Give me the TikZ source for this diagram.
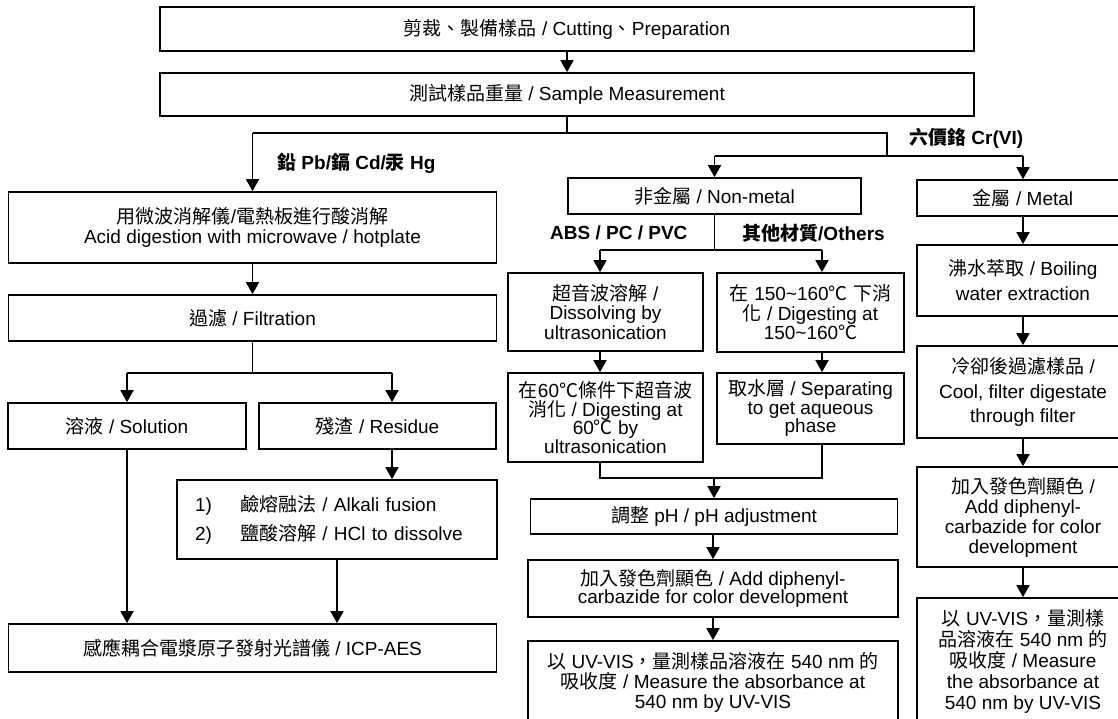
\documentclass[tikz,border=0pt]{standalone}
\usepackage{fontspec}
\setmainfont{Liberation Sans}
\newfontfamily\cjk{Noto Sans CJK TC}
\usetikzlibrary{arrows.meta}
\newcommand{\zh}[1]{{\cjk #1}}
\newcommand{\fs}[1]{\fontsize{19}{#1}\selectfont\lineskiplimit=-30pt\lineskip=0pt}
\begin{document}
\begin{tikzpicture}[x=1pt,y=-1pt,
  box/.style={draw, line width=1.7pt, inner sep=0pt, align=center, font=\fs{19.5}},
  lbl/.style={inner sep=0pt, anchor=west, font=\fs{19.5}\bfseries},
  ln/.style={line width=1.7pt},
  arr/.style={line width=1.7pt, -{Triangle[length=12pt,width=13pt]}}]
\useasboundingbox (0,0) rectangle (1118,718);
\clip (0,0) rectangle (1118,718);
\fill[white] (0,0) rectangle (1118,718);

% top
\node[box, minimum width=814pt, minimum height=44pt] (cut) at (567,29) {\zh{剪裁、製備樣品} / Cutting\zh{、}Preparation};
\node[box, minimum width=814pt, minimum height=43pt] (meas) at (567,94.5) {\zh{測試樣品重量} / Sample Measurement};

% left column
\node[box, minimum width=488pt, minimum height=71pt, font=\fs{20.5}] (acid) at (252.5,227.5) {\zh{用微波消解儀}/\zh{電熱板進行酸消解}\\Acid digestion with microwave / hotplate};
\node[box, minimum width=488pt, minimum height=46pt] (filt) at (252.5,318) {\zh{過濾} / Filtration};
\node[box, minimum width=238pt, minimum height=46pt] (sol) at (127,426) {\zh{溶液} / Solution};
\node[box, minimum width=237pt, minimum height=46pt] (res) at (377.5,426) {\zh{殘渣} / Residue};
\node[box, align=left, text width=284pt, inner xsep=18pt, minimum height=79pt, font=\fs{29}] (alk) at (337,519.5) {\makebox[45pt][l]{1)}\zh{鹼熔融法} / Alkali fusion\\\makebox[45pt][l]{2)}\zh{鹽酸溶解} / HCl to dissolve};
\node[box, minimum width=488pt, minimum height=48pt] (icp) at (252.5,648) {\zh{感應耦合電漿原子發射光譜儀} / ICP-AES};

% middle column
\node[box, minimum width=293pt, minimum height=36pt] (nonm) at (714.5,196) {\zh{非金屬} / Non-metal};
\node[box, minimum width=195pt, minimum height=78pt] (dis) at (605.5,312) {\zh{超音波溶解} /\\Dissolving by\\ultrasonication};
\node[box, minimum width=187pt, minimum height=79pt] (dig) at (810.5,312.5) {\zh{在} 150\textasciitilde160\zh{℃} \zh{下消}\\\zh{化} / Digesting at\\150\textasciitilde160\zh{℃}};
\node[box, minimum width=195pt, minimum height=89pt, font=\fs{18.5}] (us) at (605.5,417.5) {\zh{在}60\zh{℃條件下超音波}\\\zh{消化} / Digesting at\\60\zh{℃} by\\ultrasonication};
\node[box, minimum width=187pt, minimum height=71pt, font=\fs{18.5}] (aq) at (810.5,408.5) {\zh{取水層} / Separating\\to get aqueous\\phase};
\node[box, minimum width=367pt, minimum height=35pt] (ph) at (714,516.5) {\zh{調整} pH / pH adjustment};
\node[box, minimum width=370pt, minimum height=57pt, font=\fs{18}] (add) at (713,588.5) {\zh{加入發色劑顯色} / Add diphenyl-\\carbazide for color development};
\node[box, minimum width=370pt, minimum height=82pt, font=\fs{20}] (uv) at (713,682) {\zh{以} UV-VIS\zh{，量測樣品溶液在} 540 nm \zh{的}\\\zh{吸收度} / Measure the absorbance at\\540 nm by UV-VIS};

% right column
\node[box, minimum width=212pt, minimum height=36pt] (metal) at (1023,198) {\zh{金屬} / Metal};
\node[box, minimum width=212pt, minimum height=71pt, font=\fs{25}] (boil) at (1023,280.5) {\zh{沸水萃取} / Boiling\\water extraction};
\node[box, minimum width=212pt, minimum height=92pt, font=\fs{24.5}] (cool) at (1023,392) {\zh{冷卻後過濾樣品} /\\Cool, filter digestate\\through filter};
\node[box, minimum width=212pt, minimum height=100pt, font=\fs{20}] (addm) at (1023,517) {\zh{加入發色劑顯色} /\\Add diphenyl-\\carbazide for color\\development};
\node[box, minimum width=212pt, minimum height=126pt, font=\fs{21}] (uvm) at (1023,661) {\zh{以} UV-VIS\zh{，量測樣}\\\zh{品溶液在} 540 nm \zh{的}\\\zh{吸收度} / Measure\\the absorbance at\\540 nm by UV-VIS};

% labels
\node[lbl] (lpb) at (277,163) {\zh{鉛} Pb/\zh{鎘} Cd/\zh{汞} Hg};
\node[lbl] (lcr) at (909,138) {\zh{六價鉻} Cr(VI)};
\node[lbl] (labs) at (550,233) {ABS / PC / PVC};
\node[lbl] (loth) at (742,233) {\zh{其他材質}/Others};

% junction coordinates
\coordinate (j1) at (567,133);
\coordinate (jl) at (252.5,133);
\coordinate (jr) at (887,133);
\coordinate (j2) at (887,156);
\coordinate (jn) at (714.5,156);
\coordinate (jm) at (1023,156);
\coordinate (f1) at (252.5,373);
\coordinate (fs) at (127,373);
\coordinate (fr) at (392,373);
\coordinate (n1) at (714.5,250);
\coordinate (na) at (600,250);
\coordinate (nb) at (822,250);
\coordinate (m1) at (714,478);

% connectors top
\draw[arr] (cut) -- (meas);
\draw[ln] (meas) -- (j1);
\draw[ln] (jl) -- (jr) -- (j2);
\draw[arr] (jl) -- (acid);
\draw[ln] (jn) -- (jm);
\draw[arr] (jn) -- (nonm);
\draw[arr] (jm) -- (metal);

% left connectors
\draw[arr] (acid) -- (filt);
\draw[ln] (filt) -- (f1);
\draw[ln] (fs) -- (fr);
\draw[arr] (fs) -- (sol);
\draw[arr] (fr) -- (fr |- res.north);
\draw[arr] (res.south -| fr) -- (alk.north -| fr);
\draw[arr] (sol) -- (sol.south |- icp.north);
\draw[arr] (alk) -- (alk.south |- icp.north);

% middle connectors
\draw[ln] (nonm) -- (n1);
\draw[ln] (na) -- (nb);
\draw[arr] (na) -- (na |- dis.north);
\draw[arr] (nb) -- (nb |- dig.north);
\draw[arr] (dis.south -| na) -- (us.north -| na);
\draw[arr] (dig.south -| nb) -- (aq.north -| nb);
\draw[ln] (us.south -| na) -- (na |- m1) -- (nb |- m1) -- (aq.south -| nb);
\draw[arr] (m1) -- (ph);
\draw[arr] (ph.south -| add.north) -- (add);
\draw[arr] (add) -- (uv);

% right connectors
\draw[arr] (metal) -- (boil);
\draw[arr] (boil) -- (cool);
\draw[arr] (cool) -- (addm);
\draw[arr] (addm) -- (uvm);
\end{tikzpicture}
\end{document}
